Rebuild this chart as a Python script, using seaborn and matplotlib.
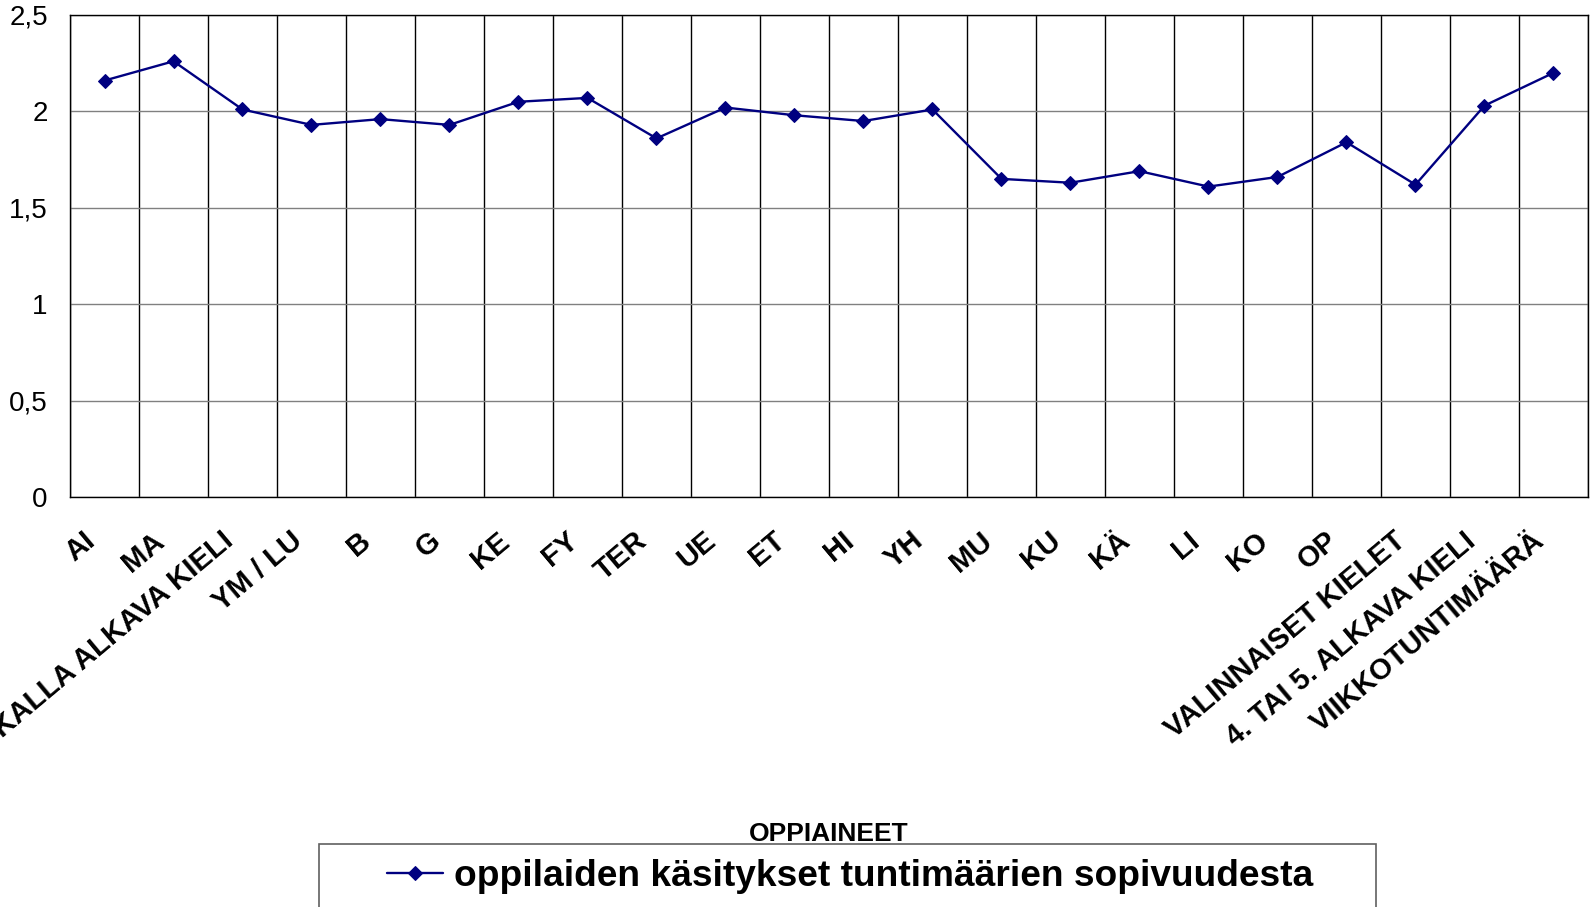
import numpy as np
import pandas as pd
import matplotlib
matplotlib.use("Agg")
import matplotlib.pyplot as plt
from matplotlib.patches import Rectangle
from matplotlib.transforms import ScaledTranslation
import seaborn as sns

categories = ["AI", "MA", "3. LUOKALLA ALKAVA KIELI", "YM / LU", "B", "G", "KE", "FY",
              "TER", "UE", "ET", "HI", "YH", "MU", "KU", "KÄ", "LI", "KO", "OP",
              "VALINNAISET KIELET", "4. TAI 5. ALKAVA KIELI", "VIIKKOTUNTIMÄÄRÄ"]
values = [2.16, 2.26, 2.01, 1.93, 1.96, 1.93, 2.05, 2.07, 1.86, 2.02, 1.98, 1.95,
          2.01, 1.65, 1.63, 1.69, 1.61, 1.66, 1.84, 1.62, 2.03, 2.20]
series_name = "oppilaiden käsitykset tuntimäärien sopivuudesta"
y_ticks = [0, 0.5, 1, 1.5, 2, 2.5]
y_tick_labels = ["0", "0,5", "1", "1,5", "2", "2,5"]
x_title = "OPPIAINEET"

sns.set_style("white")
plt.rcParams['font.family'] = ['Liberation Sans', 'DejaVu Sans']
plt.rcParams['text.color'] = 'black'
plt.rcParams['xtick.color'] = 'black'
plt.rcParams['ytick.color'] = 'black'
plt.rcParams['axes.labelcolor'] = 'black'

df = pd.DataFrame({"pos": np.arange(len(categories)), "value": values, "cat": categories})

W, H = 1594, 907
fig = plt.figure(figsize=(W / 100, H / 100), dpi=100)
ax = fig.add_axes([70 / W, 1 - 497 / H, (1588 - 70) / W, (497 - 15) / H])

sns.lineplot(data=df, x="pos", y="value", ax=ax, color="#000080", linewidth=1.7,
             marker="D", markersize=7.5, markeredgecolor="#000080",
             markerfacecolor="#000080", label=series_name)
if ax.get_legend() is not None:
    ax.get_legend().remove()

n = len(categories)
ax.set_xlim(-0.5, n - 0.5)
ax.set_ylim(0, 2.5)
ax.set_yticks(y_ticks)
ax.set_yticklabels(y_tick_labels, fontsize=20)
ax.set_xticks(np.arange(-0.5, n, 1.0))
ax.set_xticklabels([])
ax.set_xticks(np.arange(n), minor=True)
ax.set_xticklabels(categories, minor=True, fontsize=21, fontweight="bold",
                   rotation=40, ha="right", va="center", rotation_mode="anchor")
ax.tick_params(axis="x", which="minor", length=0, pad=29)
ax.tick_params(axis="x", which="major", length=8, width=1, color="black", direction="out")
ax.tick_params(axis="y", which="major", length=8, width=1, color="black", direction="out", pad=8)
offset = ScaledTranslation(-0.13, 0, fig.dpi_scale_trans)
for lab in ax.get_xticklabels(minor=True):
    lab.set_transform(lab.get_transform() + offset)
ax.set_xlabel("")
ax.set_ylabel("")

ax.yaxis.grid(True, color="#808080", linewidth=1)
ax.xaxis.grid(True, which="major", color="black", linewidth=1)
ax.set_axisbelow(True)
for s in ax.spines.values():
    s.set_visible(True)
    s.set_color("black")
    s.set_linewidth(1)

fig.text(829 / W, 1 - 834 / H, x_title, ha="center", va="center", fontsize=19,
         fontweight="bold", color="black")

fig.patches.append(Rectangle((319 / W, -0.05), (1376 - 319) / W, 0.05 + 1 - 844 / H,
                             transform=fig.transFigure, fill=False,
                             edgecolor="#606060", linewidth=1.2))
handles, labels = ax.get_legend_handles_labels()
leg = fig.legend(handles, labels, loc="center", bbox_to_anchor=(850 / W, 1 - 876 / H),
                 frameon=False, prop={"size": 26.7, "weight": "bold"},
                 handlelength=1.5, handletextpad=0.3, borderpad=0)
for t in leg.get_texts():
    t.set_color("black")

fig.savefig("out.png", dpi=100)
